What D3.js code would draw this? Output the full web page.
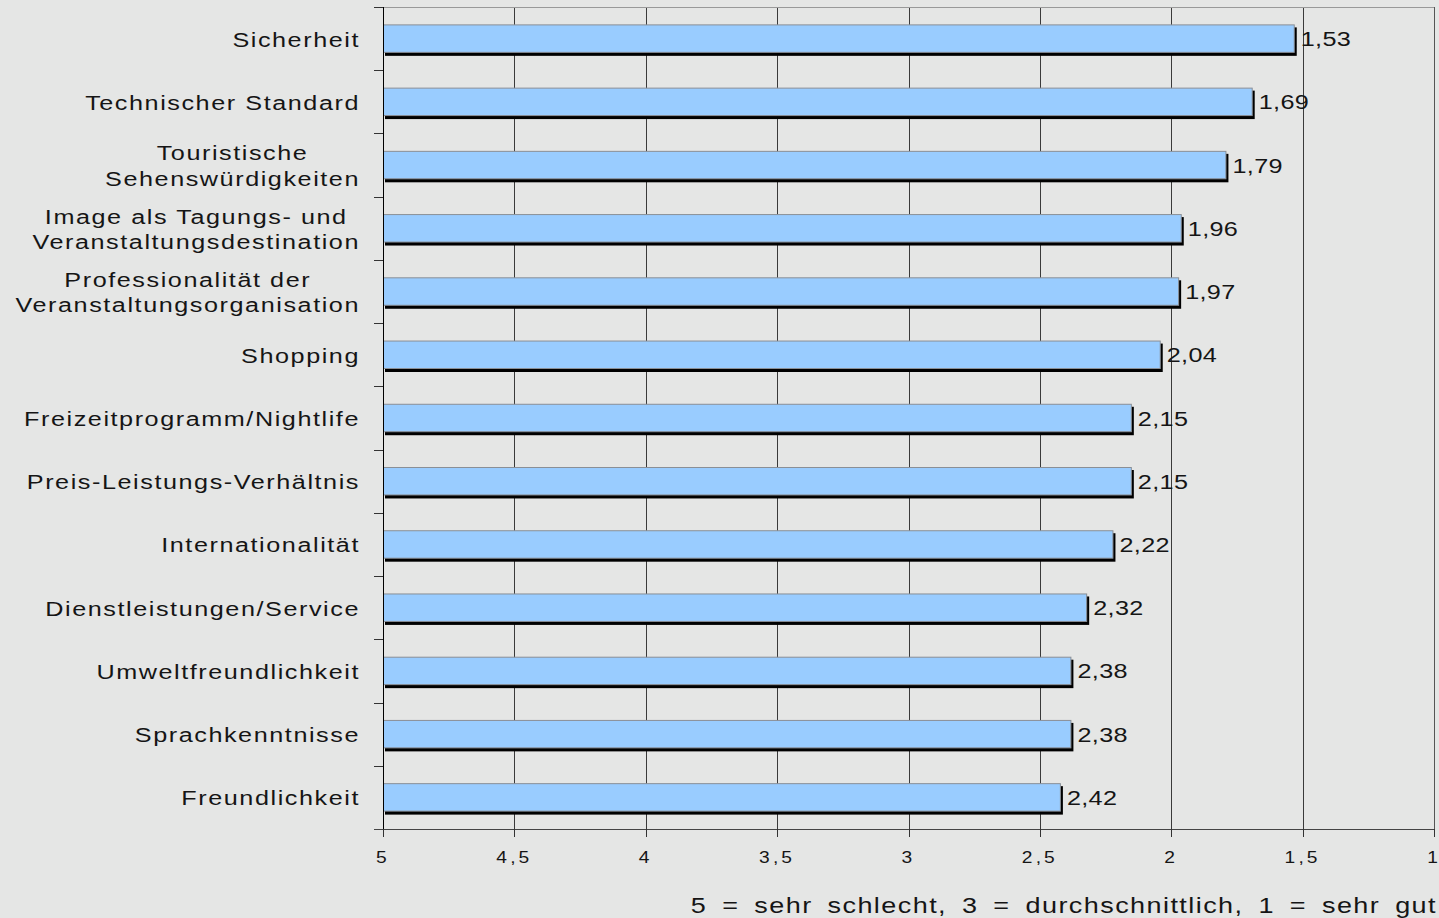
<!DOCTYPE html>
<html><head><meta charset="utf-8">
<script src="https://cdn.jsdelivr.net/npm/d3@7"></script>
<style>html,body{margin:0;padding:0;background:#e5e6e5;}svg{display:block;}</style>
</head><body><svg id="c" width="1439" height="918"></svg>
<script>
const categories = [
  ["Sicherheit"],
  ["Technischer Standard"],
  ["Touristische", "Sehenswürdigkeiten"],
  ["Image als Tagungs- und", "Veranstaltungsdestination"],
  ["Professionalität der", "Veranstaltungsorganisation"],
  ["Shopping"],
  ["Freizeitprogramm/Nightlife"],
  ["Preis-Leistungs-Verhältnis"],
  ["Internationalität"],
  ["Dienstleistungen/Service"],
  ["Umweltfreundlichkeit"],
  ["Sprachkenntnisse"],
  ["Freundlichkeit"]
];
const values = [1.53, 1.69, 1.79, 1.96, 1.97, 2.04, 2.15, 2.15, 2.22, 2.32, 2.38, 2.38, 2.42];
const ticks = [5, 4.5, 4, 3.5, 3, 2.5, 2, 1.5, 1];
const caption = "5 = sehr schlecht, 3 = durchschnittlich, 1 = sehr gut";
const fmt = v => String(v).replace(".", ",");

const FONT = "Liberation Sans, Arial, Helvetica, sans-serif";
const SX = 1.2; // horizontal stretch of the original rendering

const svg = d3.select("#c");
const L = 383, R = 1434, T = 7, B = 829;
const x = d3.scaleLinear().domain([5, 1]).range([L, R]);
const y = d3.scaleBand().domain(d3.range(categories.length)).range([T, B]).paddingInner(0.55).paddingOuter(0.275);
const yb = d3.scaleBand().domain(d3.range(categories.length)).range([T, B]);

function stext(parent, px, py, anchor, size, ls, ws) {
  const g = parent.append("g").attr("transform", `translate(${px},${py}) scale(${SX},1)`);
  return g.append("text").attr("x", 0).attr("y", 0).attr("text-anchor", anchor)
    .attr("font-family", FONT).attr("font-size", size)
    .attr("letter-spacing", ls).attr("word-spacing", ws || 0).attr("fill", "#151515");
}

// grid
svg.append("g").selectAll("line").data(ticks.slice(1, -1)).join("line")
  .attr("x1", d => Math.round(x(d)) + 0.5).attr("x2", d => Math.round(x(d)) + 0.5).attr("y1", T).attr("y2", B)
  .attr("stroke", "#3a3a3a").attr("stroke-width", 1);
// top and right border
svg.append("line").attr("x1", L).attr("x2", R).attr("y1", T + 0.5).attr("y2", T + 0.5).attr("stroke", "#999");
svg.append("line").attr("x1", R + 0.5).attr("x2", R + 0.5).attr("y1", T).attr("y2", B).attr("stroke", "#555");

// bars: shadow then bar
const g = svg.append("g");
g.selectAll("rect.sh").data(values).join("rect").attr("class", "sh")
  .attr("x", x(5) + 2).attr("y", (d, i) => y(i) + 3)
  .attr("width", d => x(d) - x(5)).attr("height", y.bandwidth())
  .attr("fill", "#000");
g.selectAll("rect.b").data(values).join("rect").attr("class", "b")
  .attr("x", x(5) + 0.5).attr("y", (d, i) => y(i) + 0.5)
  .attr("width", d => x(d) - x(5) - 1).attr("height", y.bandwidth() - 1)
  .attr("fill", "#99ccff").attr("stroke", "#8a8f96").attr("stroke-width", 1);

// value labels
values.forEach((v, i) => {
  stext(g, x(v) + 6, y(i) + y.bandwidth() / 2 + 7.5, "start", 21, 0.3).text(fmt(v));
});

// left axis
svg.append("line").attr("x1", L + 0.5).attr("x2", L + 0.5).attr("y1", T).attr("y2", B + 8).attr("stroke", "#000");
svg.append("g").selectAll("line").data(d3.range(categories.length + 1)).join("line")
  .attr("x1", L - 9).attr("x2", L)
  .attr("y1", i => Math.round(i < categories.length ? yb(i) : B) + 0.5)
  .attr("y2", i => Math.round(i < categories.length ? yb(i) : B) + 0.5)
  .attr("stroke", "#333");

// bottom axis
svg.append("line").attr("x1", L - 9).attr("x2", R).attr("y1", B + 0.5).attr("y2", B + 0.5).attr("stroke", "#444");
const xa = svg.append("g");
xa.selectAll("line").data(ticks).join("line")
  .attr("x1", d => Math.round(x(d)) + 0.5).attr("x2", d => Math.round(x(d)) + 0.5).attr("y1", B).attr("y2", B + 8)
  .attr("stroke", "#333");
ticks.forEach((t, k) => {
  const last = k === ticks.length - 1;
  stext(xa, x(t) + (last ? 4 : 0), B + 34, last ? "end" : "middle", 16, last ? 0 : 2.6).text(fmt(t));
});

// category labels
const cl = svg.append("g");
const RX = 360, LH = 25.5;
categories.forEach((lines, i) => {
  const cy = yb(i) + yb.bandwidth() / 2;
  const y0 = cy - (lines.length - 1) / 2 * LH + 8;
  const texts = lines.map((s, j) => stext(cl, RX, y0 + j * LH, "end", 21, 1.3).text(s));
  if (lines.length > 1) {
    const w = texts.map(t => t.node().getComputedTextLength() * SX);
    const mw = d3.max(w);
    texts.forEach((t, j) => {
      t.attr("text-anchor", "middle");
      d3.select(t.node().parentNode).attr("transform", `translate(${RX - mw / 2},${y0 + j * LH}) scale(${SX},1)`);
    });
  }
});

// caption
stext(svg, 1437, 913, "end", 22.5, 1.2, 5).text(caption);
</script></body></html>
